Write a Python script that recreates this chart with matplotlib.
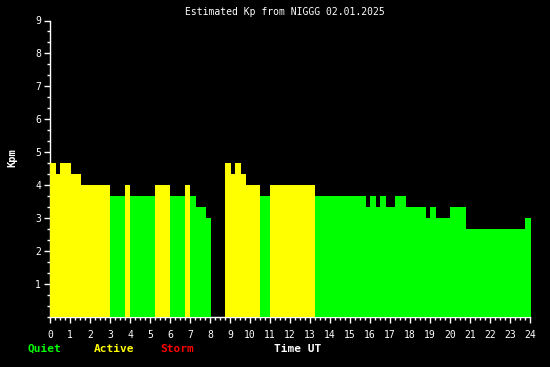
import numpy as np
import matplotlib
matplotlib.use("Agg")
import matplotlib.pyplot as plt
from matplotlib.ticker import MultipleLocator

# Step edges (hours UT) and Kpm values for each interval (NaN = no data)
edges = [0, 0.3, 0.5, 1.05, 1.55, 3.0, 3.75, 4.0, 5.25, 6.0, 6.75, 7.0, 7.3, 7.8,
         8.05, 8.75, 9.05, 9.25, 9.55, 9.8, 10.5, 11.0, 13.25, 15.8, 16.0, 16.3,
         16.5, 16.8, 17.25, 17.8, 18.8, 19.0, 19.3, 20.0, 20.8, 23.75, 24.05]
kp = [4.67, 4.33, 4.67, 4.33, 4.0, 3.67, 4.0, 3.67, 4.0, 3.67, 4.0, 3.67, 3.33, 3.0,
      np.nan, 4.67, 4.33, 4.67, 4.33, 4.0, 3.67, 4.0, 3.67, 3.33, 3.67, 3.33,
      3.67, 3.33, 3.67, 3.33, 3.0, 3.33, 3.0, 3.33, 2.67, 3.0]
x_ticks = list(range(0, 25))
y_ticks = list(range(1, 10))
title = "Estimated Kp from NIGGG 02.01.2025"

GREEN = "#00ff00"
YELLOW = "#ffff00"
RED = "#ff0000"

fig = plt.figure(figsize=(5.5, 3.67), dpi=100, facecolor="black")
ax = fig.add_axes([50/550, 1-317/367, 480/550, (317-20.5)/367])
ax.set_facecolor("black")

e = np.array(edges)
v = np.array(kp)
colors = [RED if k >= 5 else (YELLOW if k >= 4 else GREEN) for k in np.nan_to_num(v)]
mask = ~np.isnan(v)
ax.bar(e[:-1][mask], v[mask], width=np.diff(e)[mask], align="edge",
       color=np.array(colors)[mask], linewidth=0, zorder=3, clip_on=False)

ax.set_xlim(0, 24)
ax.set_ylim(0, 9)
for s in ["top", "right"]:
    ax.spines[s].set_visible(False)
for s in ["left", "bottom"]:
    ax.spines[s].set_color("white")
    ax.spines[s].set_linewidth(1)
    ax.spines[s].set_zorder(1)

mono = ["DejaVu Sans Mono"]
ax.set_xticks(x_ticks)
ax.set_xticklabels([str(t) for t in x_ticks], family=mono, fontsize=7, color="white")
ax.xaxis.set_minor_locator(MultipleLocator(0.25))
ax.set_yticks(y_ticks)
ax.set_yticklabels([str(t) for t in y_ticks], family=mono, fontsize=7, color="white")
ax.yaxis.set_minor_locator(MultipleLocator(1/3))
ax.tick_params(axis="x", which="major", length=4, width=1, color="white", pad=5)
ax.tick_params(axis="x", which="minor", length=2.5, width=1, color="white")
ax.tick_params(axis="y", which="major", length=4, width=1, color="white", pad=2.5)
ax.tick_params(axis="y", which="minor", length=2.5, width=1, color="white")

fig.text(284.5/550, 1-12/367, title, family=mono, fontsize=7, color="white",
         ha="center", va="center")
fig.text(12.5/550, 1-158/367, "Kpm", family=mono, fontsize=7.5, fontweight="bold",
         color="white", rotation=90, ha="center", va="center")
fig.text(44.5/550, 1-349/367, "Quiet", family=mono, fontsize=8, fontweight="bold",
         color=GREEN, ha="center", va="center")
fig.text(114.5/550, 1-349/367, "Active", family=mono, fontsize=8, fontweight="bold",
         color=YELLOW, ha="center", va="center")
fig.text(177.5/550, 1-349/367, "Storm", family=mono, fontsize=8, fontweight="bold",
         color=RED, ha="center", va="center")
fig.text(298/550, 1-349/367, "Time UT", family=mono, fontsize=8, fontweight="bold",
         color="white", ha="center", va="center")

fig.savefig("out.png", dpi=100, facecolor="black")
